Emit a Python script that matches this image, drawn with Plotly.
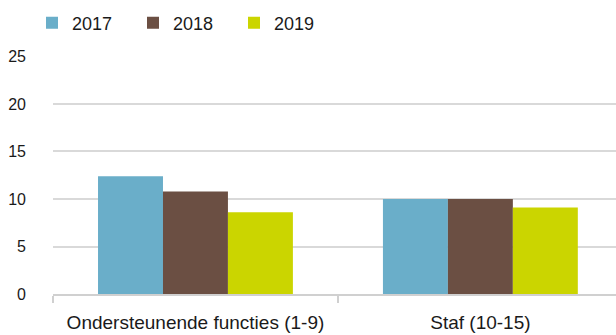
import plotly.graph_objects as go

categories = ["Ondersteunende functies (1-9)", "Staf (10-15)"]
years = ["2017", "2018", "2019"]
values_2017 = [12.4, 10.0]
values_2018 = [10.8, 10.0]
values_2019 = [8.6, 9.1]
y_ticks = [0, 5, 10, 15, 20, 25]

colors = {"2017": "#6aaec9", "2018": "#6b4f43", "2019": "#cbd500"}
series = {"2017": values_2017, "2018": values_2018, "2019": values_2019}

font_family = "Liberation Sans, Arial, sans-serif"

fig = go.Figure()
for yr in years:
    fig.add_trace(go.Bar(
        x=categories,
        y=series[yr],
        name=yr,
        marker=dict(color=colors[yr], line=dict(width=0)),
    ))

fig.update_layout(
    width=616,
    height=335,
    margin=dict(l=53, r=0, t=56, b=41),
    paper_bgcolor="white",
    plot_bgcolor="white",
    barmode="group",
    bargap=0.316,
    bargroupgap=0,
    font=dict(family=font_family, size=16, color="#1a1a1a"),
    showlegend=True,
    legend=dict(
        orientation="h",
        x=32 / 616, xanchor="left", xref="container",
        y=1 - 23 / 335, yanchor="middle", yref="container",
        font=dict(size=18),
        itemwidth=30,
        entrywidth=56,
        traceorder="normal",
        bgcolor="rgba(0,0,0,0)",
    ),
    xaxis=dict(
        type="category",
        range=[-0.5, 1.476],
        showline=True,
        linecolor="#d0d0d0",
        linewidth=2,
        ticks="outside",
        tickson="boundaries",
        ticklen=7,
        tickwidth=2,
        tickcolor="#d0d0d0",
        showgrid=False,
        ticklabelstandoff=10,
        tickfont=dict(size=19),
    ),
    yaxis=dict(
        range=[0, 25.05],
        tickvals=y_ticks,
        showgrid=True,
        gridcolor="#d9d9d9",
        gridwidth=2,
        zeroline=False,
        showline=False,
        ticks="",
        ticklabelstandoff=26,
        tickfont=dict(size=16),
    ),
)

fig.write_html("out.html")
